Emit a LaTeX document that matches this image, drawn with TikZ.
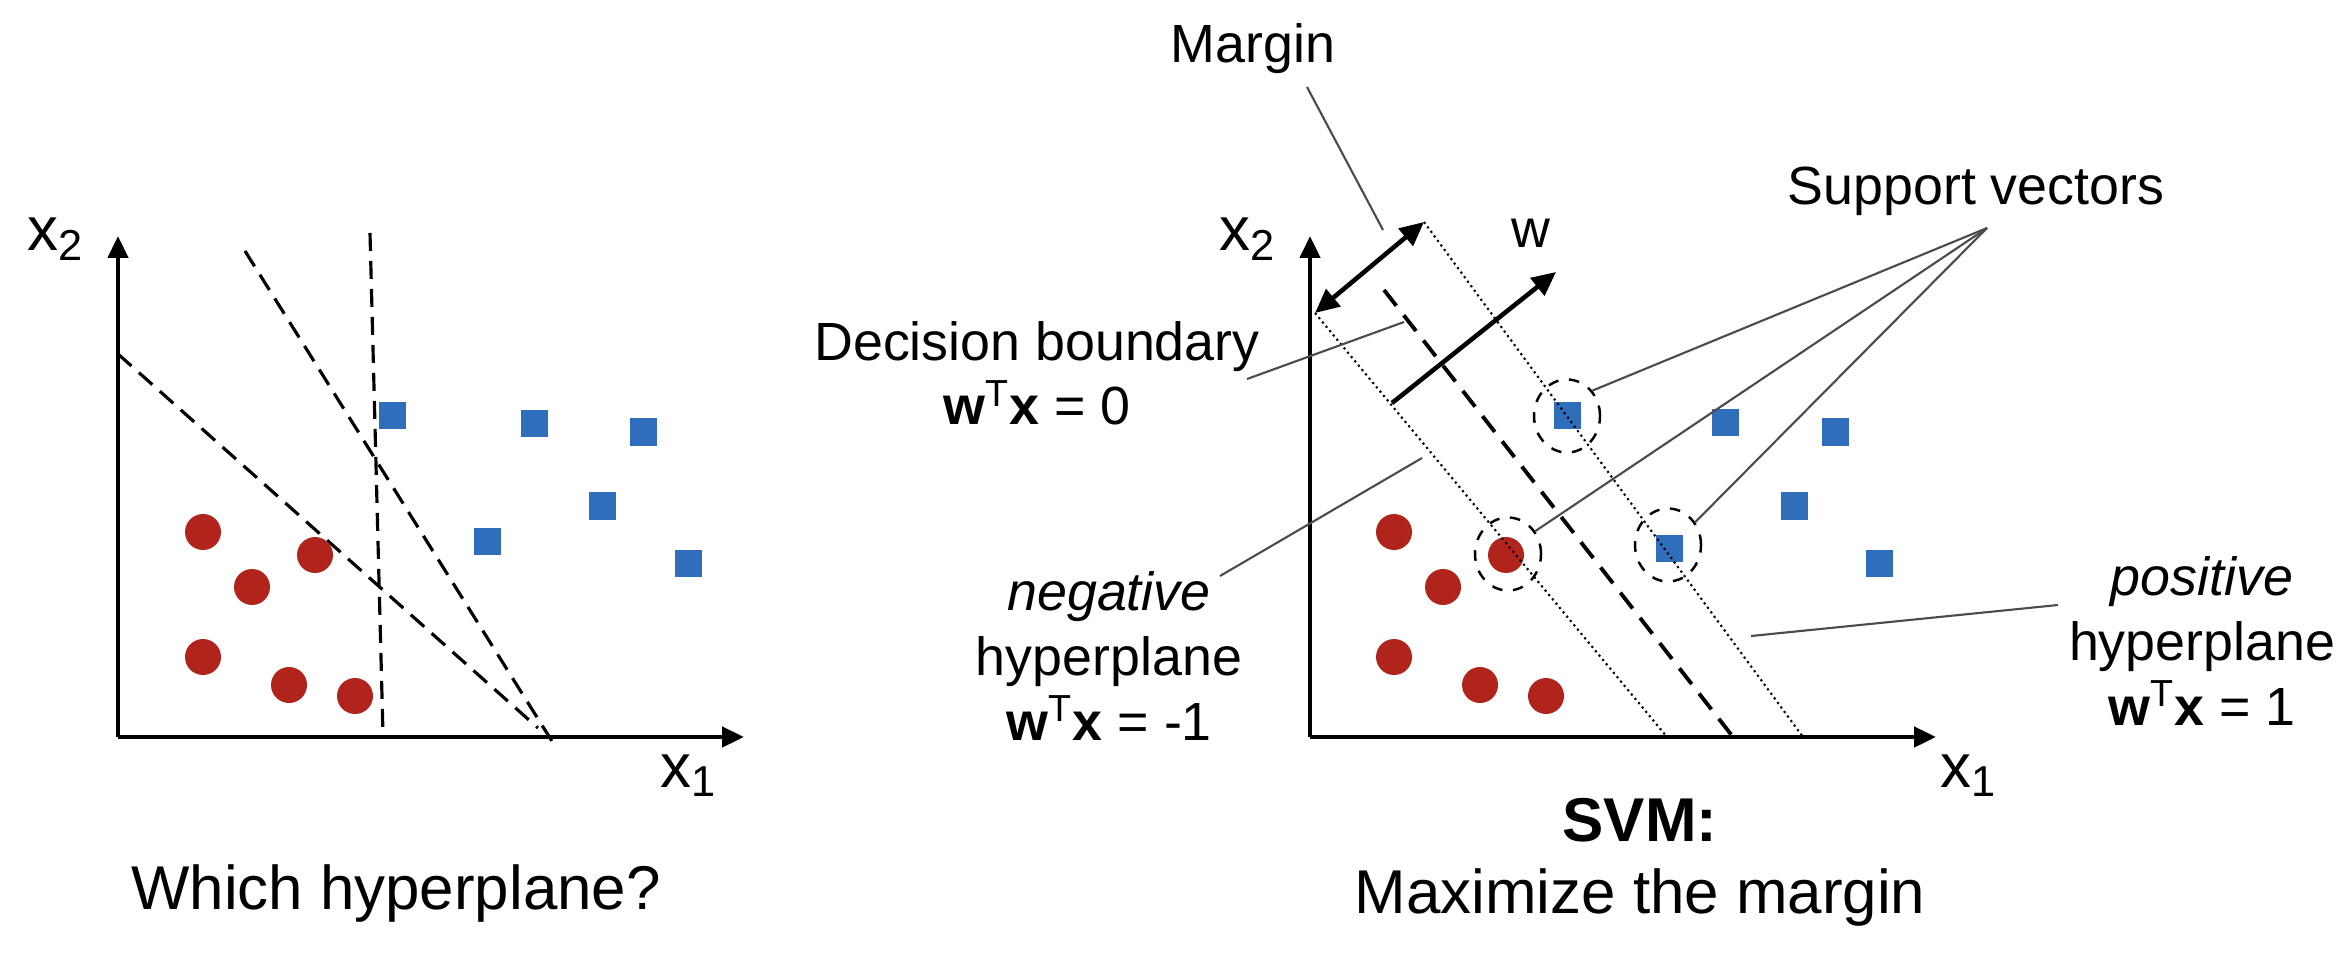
\documentclass[tikz,border=0pt]{standalone}
\usepackage{fontspec}
\setmainfont{Liberation Sans}
\usetikzlibrary{arrows.meta,shapes.geometric}
\definecolor{dotred}{RGB}{176,36,27}
\definecolor{dotblue}{RGB}{47,110,186}
\definecolor{leadgray}{RGB}{75,75,75}

\begin{document}
\begin{tikzpicture}[
    every node/.style={font=\fontsize{15.3}{18.4}\selectfont, inner sep=0pt},
    bigtext/.style={font=\fontsize{17.6}{20.4}\selectfont},
    axis/.style={line width=1.3pt, -{Triangle[length=0.22cm,width=0.2cm]}},
    guess/.style={line width=0.9pt, dash pattern=on 0.18cm off 0.1cm},
    boundary/.style={line width=1.1pt, dash pattern=on 0.2cm off 0.12cm},
    plane/.style={line width=0.6pt, densely dotted},
    leader/.style={leadgray, line width=0.6pt},
    svring/.style={ellipse, draw, dashed, line width=0.7pt, minimum width=0.66cm, minimum height=0.73cm}
]
\useasboundingbox (0,0) rectangle (23.48,9.58);

% left: which hyperplane
\coordinate (lo) at (1.18,2.21);
\draw[axis] (lo) -- (1.18,7.22);
\draw[axis] (lo) -- (7.44,2.21);
\node[bigtext, anchor=base west] (lx2) at (0.27,7.07) {x\textsubscript{2}};
\node[bigtext, anchor=base west] (lx1) at (6.60,1.71) {x\textsubscript{1}};

\draw[guess] (1.18,6.04) -- (5.38,2.30);
\draw[guess] (2.45,7.07) -- (5.55,2.12);
\draw[guess] (3.70,7.25) -- (3.83,2.23);

\foreach \dx in {0,11.91} {
    \foreach \x/\y in {2.03/4.26, 2.52/3.71, 3.15/4.03, 2.03/3.01, 2.89/2.73, 3.55/2.62} {
        \fill[dotred] (\x+\dx,\y) circle (0.18);
    }
}
\foreach \x/\y in {3.92/5.42, 5.34/5.34, 6.43/5.26, 6.02/4.52, 4.87/4.17, 6.88/3.95} {
    \fill[dotblue] (\x-0.135,\y-0.135) rectangle ++(0.27,0.27);
}
\node[bigtext, anchor=base] (which) at (3.96,0.49) {Which hyperplane?};

% right: svm
\coordinate (ro) at (13.10,2.21);
\draw[axis] (ro) -- (13.10,7.22);
\draw[axis] (ro) -- (19.36,2.21);
\node[bigtext, anchor=base west] (rx2) at (12.19,7.07) {x\textsubscript{2}};
\node[bigtext, anchor=base west] (rx1) at (19.40,1.71) {x\textsubscript{1}};

\foreach \x/\y in {15.67/5.42, 17.25/5.35, 18.35/5.26, 17.94/4.52, 16.69/4.10, 18.79/3.95} {
    \fill[dotblue] (\x-0.135,\y-0.135) rectangle ++(0.27,0.27);
}

\coordinate (mlow) at (13.15,6.45);
\coordinate (mup) at (14.24,7.36);
\draw[plane] (mlow) -- (16.67,2.21);
\draw[plane] (mup) -- (18.03,2.21);
\draw[boundary] (13.84,6.68) -- (17.33,2.21);
\draw[line width=1.3pt, {Triangle[length=0.24cm,width=0.22cm]}-{Triangle[length=0.24cm,width=0.22cm]}] (mlow) -- (mup);
\coordinate (wfoot) at (13.92,5.55);
\coordinate (whead) at (15.56,6.86);
\draw[line width=1.3pt, -{Triangle[length=0.24cm,width=0.22cm]}] (wfoot) -- (whead);
\node[anchor=base] (wlab) at (15.31,7.10) {w};

\node[svring] (sv1) at (15.67,5.42) {};
\node[svring] (sv2) at (15.08,4.04) {};
\node[svring] (sv3) at (16.68,4.13) {};

\node[anchor=base] (marginlab) at (12.53,8.95) {Margin};
\node[anchor=base] (svlab) at (19.76,7.53) {Support vectors};
\node[anchor=base, align=center] (declab) at (10.37,5.33) {Decision boundary\\\textbf{w}\textsuperscript{T}\textbf{x} = 0};
\node[anchor=base, align=center] (neglab) at (11.09,2.18) {\textit{negative}\\hyperplane\\\textbf{w}\textsuperscript{T}\textbf{x} = -1};
\node[anchor=base, align=center] (poslab) at (22.02,2.33) {\textit{positive}\\hyperplane\\\textbf{w}\textsuperscript{T}\textbf{x} = 1};
\node[bigtext, anchor=base, align=center] (svmlab) at (16.40,0.45) {\textbf{SVM:}\\Maximize the margin};

\coordinate (margintail) at (13.07,8.71);
\coordinate (marginhead) at (13.83,7.28);
\coordinate (dectail) at (12.47,5.79);
\coordinate (dechead) at (14.04,6.36);
\coordinate (negtail) at (12.20,3.82);
\coordinate (neghead) at (14.22,5.00);
\coordinate (postail) at (20.58,3.53);
\coordinate (poshead) at (17.51,3.22);
\coordinate (svhub) at (19.87,7.30);
\draw[leader] (margintail) -- (marginhead);
\draw[leader] (dectail) -- (dechead);
\draw[leader] (negtail) -- (neghead);
\draw[leader] (postail) -- (poshead);
\draw[leader] (svhub) -- (sv1.45);
\draw[leader] (svhub) -- (sv2.40);
\draw[leader] (svhub) -- (sv3.40);
\end{tikzpicture}
\end{document}
